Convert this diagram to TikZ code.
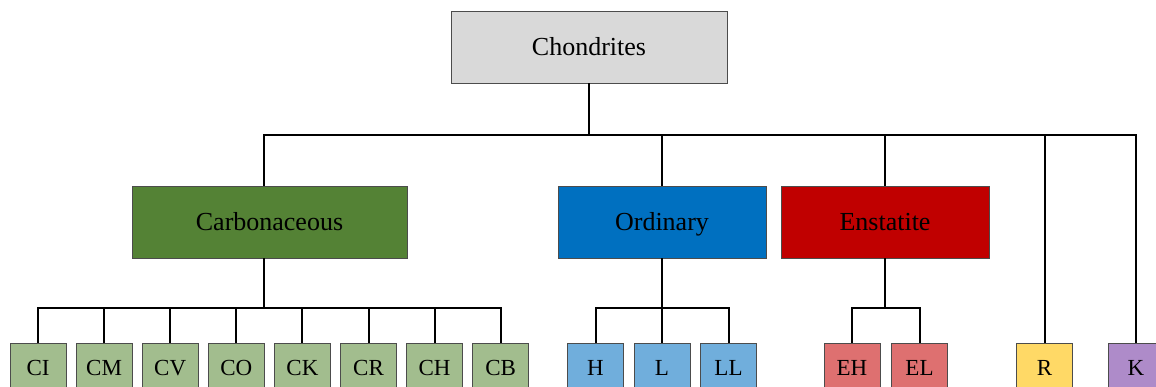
\documentclass[tikz,border=0pt]{standalone}
\usepackage{fontspec}
\setmainfont{Liberation Serif}
\usepackage{tikz}
\usetikzlibrary{calc}

\definecolor{rootgray}{HTML}{D9D9D9}
\definecolor{carbgreen}{HTML}{548235}
\definecolor{ordblue}{HTML}{0070C0}
\definecolor{ensred}{HTML}{C00000}
\definecolor{leafgreen}{HTML}{A2BD8E}
\definecolor{leafblue}{HTML}{70AEDC}
\definecolor{leafred}{HTML}{DE7070}
\definecolor{leafyellow}{HTML}{FFD966}
\definecolor{leafpurple}{HTML}{AE8BC9}

\tikzset{
	box/.style={draw=black!70, line width=0.9pt, minimum height=72pt, inner sep=0pt,
		text height=21pt, text depth=3pt, font=\fontsize{26}{30}\selectfont},
	leaf/.style={draw=black!70, line width=0.9pt, minimum width=56pt, minimum height=48pt,
		inner sep=0pt, text height=18pt, text depth=2pt, font=\fontsize{23}{27}\selectfont},
	link/.style={line width=2pt}
}

\begin{document}
\begin{tikzpicture}[x=1pt, y=-1pt]
	\useasboundingbox (0,0) rectangle (1156,387);
	\clip (0,0) rectangle (1156,387);
	
	% Root and the main classes
	\node[box, fill=rootgray, minimum width=276pt] (chond) at (589,47) {Chondrites};
	\node[box, fill=carbgreen, minimum width=275pt] (carb) at (269.5,222) {Carbonaceous};
	\node[box, fill=ordblue, minimum width=208pt] (ord) at (662,222) {Ordinary};
	\node[box, fill=ensred, minimum width=208pt] (ens) at (885,222) {Enstatite};
	\coordinate (cdrop) at (264,0);
	
	% Groups of each class
	\foreach \name/\lbl [count=\i from 0] in {ci/CI, cm/CM, cv/CV, co/CO, ck/CK, cr/CR, ch/CH, cb/CB}
		\node[leaf, fill=leafgreen] (\name) at (38+66.1*\i,367) {\lbl};
	\foreach \name/\lbl [count=\i from -1] in {h/H, l/L, ll/LL}
		\node[leaf, fill=leafblue] (\name) at (662+66.5*\i,367) {\lbl};
	\node[leaf, fill=leafred] (eh) at (852,367) {EH};
	\node[leaf, fill=leafred] (el) at (919.5,367) {EL};
	\node[leaf, fill=leafyellow] (r) at (1044.5,367) {R};
	\node[leaf, fill=leafpurple] (k) at (1136,367) {K};
	
	% Upper tree
	\draw[link] (chond.south) -- (chond.south |- 0,135);
	\draw[link] (cdrop |- carb.north) |- (k.north |- 0,135) -- (k.north);
	\foreach \name in {ord, ens, r}
		\draw[link] (\name.north) -- (\name.north |- 0,135);
	
	% Lower tree
	\draw[link] (cdrop |- carb.south) -- (cdrop |- 0,308);
	\draw[link] (ci.north) |- (cb.north |- 0,308) -- (cb.north);
	\foreach \name in {cm, cv, co, ck, cr, ch}
		\draw[link] (\name.north) -- (\name.north |- 0,308);
	\draw[link] (ord.south) -- (l.north);
	\draw[link] (h.north) |- (ll.north |- 0,308) -- (ll.north);
	\draw[link] (ens.south) -- (ens.south |- 0,308);
	\draw[link] (eh.north) |- (el.north |- 0,308) -- (el.north);
\end{tikzpicture}
\end{document}
